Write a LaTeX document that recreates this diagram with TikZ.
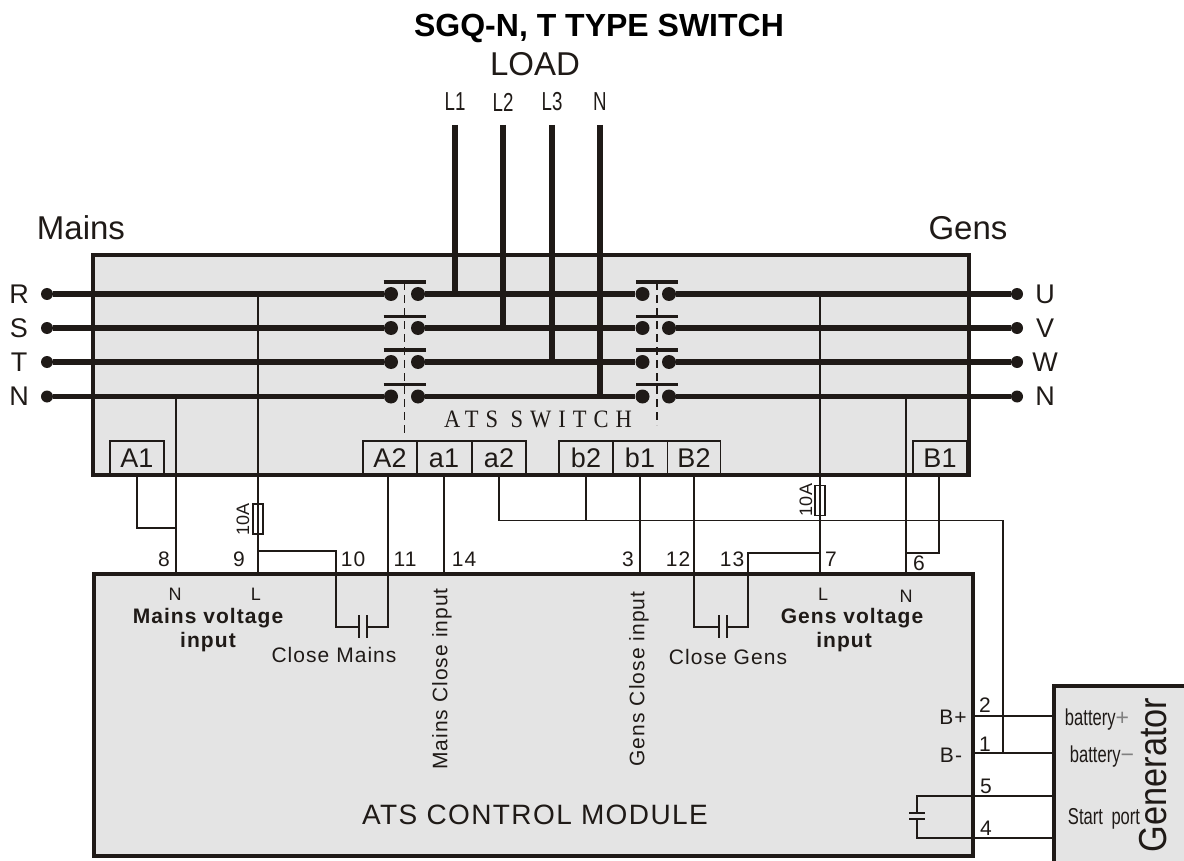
\documentclass[tikz,border=0pt]{standalone}
\usepackage{fontspec}
\setmainfont{Liberation Sans}
\newfontfamily\spacedsans[LetterSpace=5]{Liberation Sans}
\newfontfamily\narrowsans[FakeStretch=0.72]{Liberation Sans}
\newfontfamily\tallsans[FakeStretch=0.88]{Liberation Sans}
\newfontfamily\spacedserif[LetterSpace=28,FakeStretch=0.9]{Liberation Serif}
\usetikzlibrary{positioning}
\definecolor{ink}{HTML}{1F1A17}
\definecolor{panelgray}{HTML}{E4E4E4}
\tikzset{
	panel/.style={draw=ink, fill=panelgray, line width=3.5pt, inner sep=0pt},
	terminal/.style={draw=ink, line width=1.4pt, minimum height=34pt, inner sep=0pt, font=\fontsize{27}{27}\selectfont, text=ink},
	phase/.style={line width=5.5pt, draw=ink},
	wire/.style={line width=1.6pt, draw=ink},
	stud/.style={circle, fill=ink, inner sep=0pt, minimum size=14pt},
	endstud/.style={circle, fill=ink, inner sep=0pt, minimum size=12pt},
	bar/.style={line width=3.5pt, draw=ink},
	fuse/.style={draw=ink, line width=1.2pt, minimum width=10pt, minimum height=30pt, inner sep=0pt},
	plate/.style={line width=1.8pt, draw=ink},
	txt/.style={inner sep=0pt, text=ink, font=\spacedsans\fontsize{21}{21}\selectfont},
	num/.style={inner sep=0pt, text=ink, font=\spacedsans\fontsize{21}{21}\selectfont},
	big/.style={inner sep=0pt, text=ink, font=\fontsize{27}{27}\selectfont},
	head/.style={inner sep=0pt, text=ink, font=\fontsize{33}{33}\selectfont},
	boldtxt/.style={inner sep=0pt, text=ink, align=center, font=\spacedsans\bfseries\fontsize{21}{24}\selectfont},
	narrow/.style={inner sep=0pt, text=ink, font=\narrowsans\fontsize{23}{23}\selectfont}
}
\begin{document}
\begin{tikzpicture}[x=1pt, y=-1pt]
	\useasboundingbox (0,0) rectangle (1184,861);
	\clip (0,0) rectangle (1184,861);
	% Panels
	\node[panel, minimum width=876pt, minimum height=220pt] (switch) at (531,365) {};
	\node[panel, minimum width=879pt, minimum height=282pt] (module) at (533.5,715) {};
	\node[panel, minimum width=160pt, minimum height=200pt] (generator) at (1134,786) {};
	% Headings
	\node[inner sep=0pt, font=\bfseries\fontsize{32}{32}\selectfont] (title) at (599,28) {SGQ-N, T TYPE SWITCH};
	\node[head] (load) at (535,64) {LOAD};
	\node[head] (mains) at (81,228) {Mains};
	\node[head] (gens) at (968,228) {Gens};
	\node[inner sep=0pt, text=ink, font=\spacedserif\fontsize{25}{25}\selectfont] (atsswitch) at (538,419) {ATS SWITCH};
	% Phase lines and contacts
	\foreach \i/\y/\ml/\gl in {1/294/R/U, 2/328/S/V, 3/362/T/W, 4/396.5/N/N} {
		\node[big] (ml\i) at (19,\y) {\ml};
		\node[big] (gl\i) at (1045,\y) {\gl};
		\node[endstud] (me\i) at (47,\y) {};
		\node[endstud] (ge\i) at (1017,\y) {};
		\node[stud] (ca\i) at (391,\y) {};
		\node[stud] (cb\i) at (418,\y) {};
		\node[stud] (cc\i) at (642.5,\y) {};
		\node[stud] (cd\i) at (669,\y) {};
		\draw[phase] (me\i) -- (ca\i);
		\draw[phase] (cb\i) -- (cc\i);
		\draw[phase] (cd\i) -- (ge\i);
	}
	% Contact bars
	\foreach \i/\y in {1/282, 2/316.5, 3/350, 4/384.5} {
		\coordinate (ba\i) at (404.5,\y);
		\coordinate (bb\i) at (657,\y);
		\draw[bar] ([xshift=-21pt]ba\i) -- ([xshift=21pt]ba\i);
		\draw[bar] ([xshift=-21pt]bb\i) -- ([xshift=21pt]bb\i);
	}
	\coordinate (da) at (404.5,433);
	\coordinate (db) at (657,425);
	\draw[wire, dashed, dash pattern=on 8pt off 5pt] (ba1) -- (da);
	\draw[wire, dashed, dash pattern=on 8pt off 5pt] (bb1) -- (db);
	% Load lines
	\foreach \i/\x/\lbl in {1/455/L1, 2/503/L2, 3/552/L3, 4/600/N} {
		\node[narrow, font=\narrowsans\fontsize{26}{26}\selectfont] (ll\i) at (\x,102) {\lbl};
		\coordinate (lt\i) at (\x,125);
		\draw[phase] (lt\i) -- (lt\i |- cb\i);
	}
	% Terminals of the switch
	\foreach \name/\x/\w in {A1/137/54, A2/390/54, a1/444/55, a2/499/54, b2/586/54, b1/640/55, B2/694/53, B1/940/54} {
		\node[terminal, minimum width=\w pt] (\name) at (\x,458) {\name};
	}
	% Terminals of the module
	\foreach \name/\x in {t8/176, t9/258, t10/336, t11/388, t14/444, t3/640, t12/694, t13/748, t7/820, t6/906} {
		\coordinate (\name) at (\x,574);
	}
	\foreach \name/\x/\y/\lbl in {n8/164/559/8, n9/239/559/9, n10/353/559/10, n11/405/559/11, n14/464/559/14, n3/628/559/3, n12/678/559/12, n13/732/559/13, n7/831/559/7, n6/919/563/6, n2/985/705/2, n1/985/744/1, n5/986/786/5, n4/986/828/4} {
		\node[num] (\name) at (\x,\y) {\lbl};
	}
	% Mains side wires
	\draw[wire] (t8 |- ca4) -- (t8);
	\coordinate (a1drop) at (137,528);
	\draw[wire] (A1.south) -- (a1drop) -- (t8 |- a1drop);
	\draw[wire] (t9 |- ca1) -- (t9);
	\node[fuse] (fusem) at (258,519) {};
	\node[num, rotate=90, font=\fontsize{18}{18}\selectfont] (fusemlbl) at (243,519) {10A};
	\coordinate (capm) at (363,627);
	\draw[wire] (258,551) -- (336,551) -- (t10) -- (t10 |- capm) -- (359,627);
	\draw[wire] (367,627) -- (t11 |- capm) -- (t11 |- A2.south);
	\draw[plate] (359,615) -- (359,638);
	\draw[plate] (367,615) -- (367,638);
	\draw[wire] (a1.south) -- (t14);
	% Gens side wires
	\draw[wire] (a2.south) -- (a2 |- 0,520.5) -- (1003,520.5) coordinate (bk) -- (1003,753) coordinate (bm);
	\draw[wire] (b2.south) -- (b2 |- bk);
	\draw[wire] (b1.south) -- (t3);
	\draw[wire] (t7 |- cd1) -- (t7);
	\node[fuse] (fuseg) at (820,500.5) {};
	\node[num, rotate=90, font=\fontsize{18}{18}\selectfont] (fuseglbl) at (806,500) {10A};
	\draw[wire] (B2.south) -- (t12) -- (694,627) -- (719,627);
	\draw[wire] (727,627) -- (t13 |- 727,627) -- (t13) -- (748,553) -- (820,553);
	\draw[plate] (719,615) -- (719,638);
	\draw[plate] (727,615) -- (727,638);
	\draw[wire] (t6 |- cd4) -- (t6);
	\draw[wire] (939,475) -- (939,553) -- (906,553);
	% Generator wires
	\coordinate (gbat) at (generator.west);
	\draw[wire] (973,716) -- (1054,716);
	\draw[wire] (bm -| module.east) -- (bm -| gbat);
	\draw[wire] (917,813) -- (917,796) -- (1054,796);
	\draw[wire] (917,819) -- (917,838) -- (1054,838);
	\draw[plate] (909,813) -- (925,813);
	\draw[plate] (909,819) -- (925,819);
	% Module texts
	\node[num, font=\fontsize{18}{18}\selectfont] (mn) at (175,594) {N};
	\node[num, font=\fontsize{18}{18}\selectfont] (ml) at (256,594) {L};
	\node[num, font=\fontsize{18}{18}\selectfont] (gl) at (823,594) {L};
	\node[num, font=\fontsize{18}{18}\selectfont] (gn) at (906,596) {N};
	\node[boldtxt] (mvi) at (208,630) {Mains voltage\\input};
	\node[boldtxt] (gvi) at (852,630) {Gens voltage\\\hspace*{-16pt}input};
	\node[txt] (closem) at (334,655) {Close Mains};
	\node[txt] (closeg) at (728,657) {Close Gens};
	\node[txt, rotate=90] (mci) at (442,679) {Mains Close input};
	\node[txt, rotate=90] (gci) at (639,679) {Gens Close input};
	\node[inner sep=0pt, text=ink, font=\spacedsans\fontsize{28}{28}\selectfont] (atsmodule) at (535,815) {ATS CONTROL MODULE};
	\node[num] (bp) at (953,717) {B+};
	\node[num] (bn) at (951,755) {B-};
	% Generator texts
	\node[narrow] (batp) at (1097,720) {battery{\rmfamily\textcolor{gray}{+}}};
	\node[narrow] (batn) at (1102,757) {battery{\rmfamily\textcolor{gray}{−}}};
	\node[narrow] (start) at (1104,819) {Start\hspace{4pt} port};
	\node[head, rotate=90, font=\tallsans\fontsize{39}{39}\selectfont] (genlbl) at (1153,775) {Generator};
\end{tikzpicture}
\end{document}
